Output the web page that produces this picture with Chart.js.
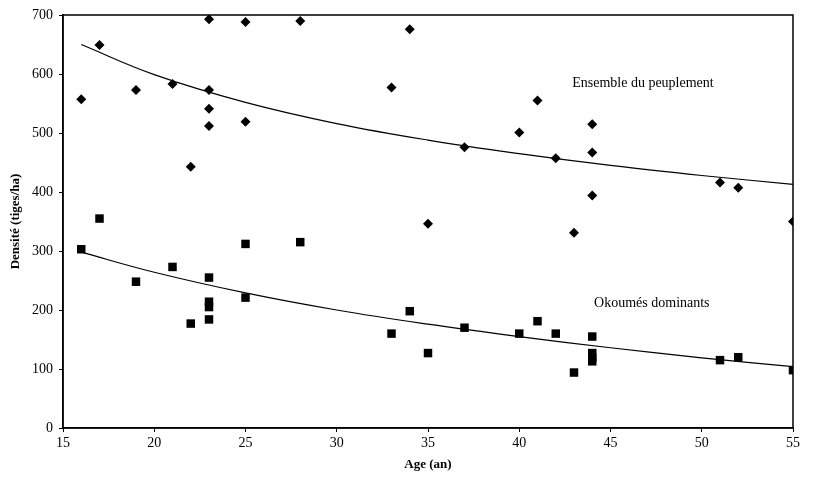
<!DOCTYPE html>
<html>
<head>
<meta charset="utf-8">
<script src="https://cdn.jsdelivr.net/npm/chart.js@4.4.1/dist/chart.umd.min.js"></script>
<style>
  html, body { margin: 0; padding: 0; background: #fff; }
  #wrap { width: 813px; height: 482px; }
</style>
</head>
<body>
<div id="wrap"><canvas id="myCanvas" width="813" height="482"></canvas></div>
<script>
// Ensemble du peuplement (diamonds)
const ensembleAge = [16, 17, 19, 21, 22, 23, 23, 23, 23, 25, 25, 28, 33, 34, 35, 37, 40, 41, 42, 43, 44, 44, 44, 51, 52, 55];
const ensembleDensite = [557, 649, 573, 583, 443, 693, 573, 541, 512, 688, 519, 690, 577, 676, 346, 476, 501, 555, 457, 331, 515, 467, 394, 416, 407, 350];

// Okoumés dominants (squares)
const okoumeAge = [16, 17, 19, 21, 22, 23, 23, 23, 23, 25, 25, 28, 33, 34, 35, 37, 40, 41, 42, 43, 44, 44, 44, 44, 51, 52, 55];
const okoumeDensite = [303, 355, 248, 273, 177, 255, 214, 205, 184, 312, 221, 315, 160, 198, 127, 170, 160, 181, 160, 94, 155, 127, 119, 113, 115, 120, 98];

// trend curves
const trendAge = [16, 20, 25, 30, 35, 40, 45, 50, 55];
const ensembleTrend = [650, 599, 552, 516, 488, 465, 445, 428, 413];
const okoumeTrend = [298, 264, 229, 200, 176, 155, 136, 119, 104];

const xTicks = [15, 20, 25, 30, 35, 40, 45, 50, 55];
const yTicks = [0, 100, 200, 300, 400, 500, 600, 700];

const toPoints = (xs, ys) => xs.map((x, i) => ({ x: x, y: ys[i] }));

const serif = "'Liberation Serif', 'DejaVu Serif', serif";

const labelsPlugin = {
  id: "labels",
  afterDraw(chart) {
    const { ctx, chartArea, scales } = chart;
    ctx.save();
    ctx.strokeStyle = "#000";
    ctx.lineWidth = 1.5;
    ctx.strokeRect(chartArea.left, chartArea.top, chartArea.right - chartArea.left, chartArea.bottom - chartArea.top);
    ctx.fillStyle = "#000";
    ctx.font = "14px " + serif;
    ctx.textBaseline = "middle";
    ctx.textAlign = "left";
    ctx.fillText("Ensemble du peuplement", scales.x.getPixelForValue(42.9), scales.y.getPixelForValue(585));
    ctx.fillText("Okoumés dominants", scales.x.getPixelForValue(44.1), scales.y.getPixelForValue(212));
    ctx.restore();
  },
};

new Chart(document.getElementById("myCanvas"), {
  type: "scatter",
  data: {
    datasets: [
      {
        label: "Ensemble du peuplement",
        data: toPoints(ensembleAge, ensembleDensite),
        pointStyle: "rectRot",
        pointRadius: 5,
        backgroundColor: "#000",
        borderColor: "#000",
        borderWidth: 0,
      },
      {
        label: "Okoumés dominants",
        data: toPoints(okoumeAge, okoumeDensite),
        pointStyle: "rect",
        pointRadius: 6,
        backgroundColor: "#000",
        borderColor: "#000",
        borderWidth: 0,
      },
      {
        label: "tendance ensemble",
        data: toPoints(trendAge, ensembleTrend),
        showLine: true,
        pointRadius: 0,
        borderColor: "#000",
        borderWidth: 1.2,
        tension: 0.4,
      },
      {
        label: "tendance okoumés",
        data: toPoints(trendAge, okoumeTrend),
        showLine: true,
        pointRadius: 0,
        borderColor: "#000",
        borderWidth: 1.2,
        tension: 0.4,
      },
    ],
  },
  options: {
    responsive: false,
    animation: false,
    layout: { padding: { top: 15, right: 20, left: 0, bottom: 0 } },
    plugins: {
      legend: { display: false },
      tooltip: { enabled: false },
    },
    scales: {
      x: {
        type: "linear",
        min: 15,
        max: 55,
        afterBuildTicks: (scale) => { scale.ticks = xTicks.map((v) => ({ value: v })); },
        afterFit: (scale) => { scale.height = 54; },
        grid: { drawOnChartArea: false, tickLength: 4, color: "#000" },
        border: { color: "#000", width: 1.5 },
        ticks: { color: "#000", font: { family: serif, size: 14 }, padding: 3 },
        title: {
          display: true,
          text: "Age (an)",
          color: "#000",
          font: { family: serif, size: 13, weight: "bold" },
          padding: { top: 0, bottom: 10 },
        },
      },
      y: {
        min: 0,
        max: 700,
        afterBuildTicks: (scale) => { scale.ticks = yTicks.map((v) => ({ value: v })); },
        afterFit: (scale) => { scale.width = 63; },
        grid: { drawOnChartArea: false, tickLength: 4, color: "#000" },
        border: { color: "#000", width: 1.5 },
        ticks: { color: "#000", font: { family: serif, size: 14 }, padding: 6 },
        title: {
          display: true,
          text: "Densité (tiges/ha)",
          color: "#000",
          font: { family: serif, size: 13, weight: "bold" },
          padding: { top: 8, bottom: 0 },
        },
      },
    },
  },
  plugins: [labelsPlugin],
});
</script>
</body>
</html>
